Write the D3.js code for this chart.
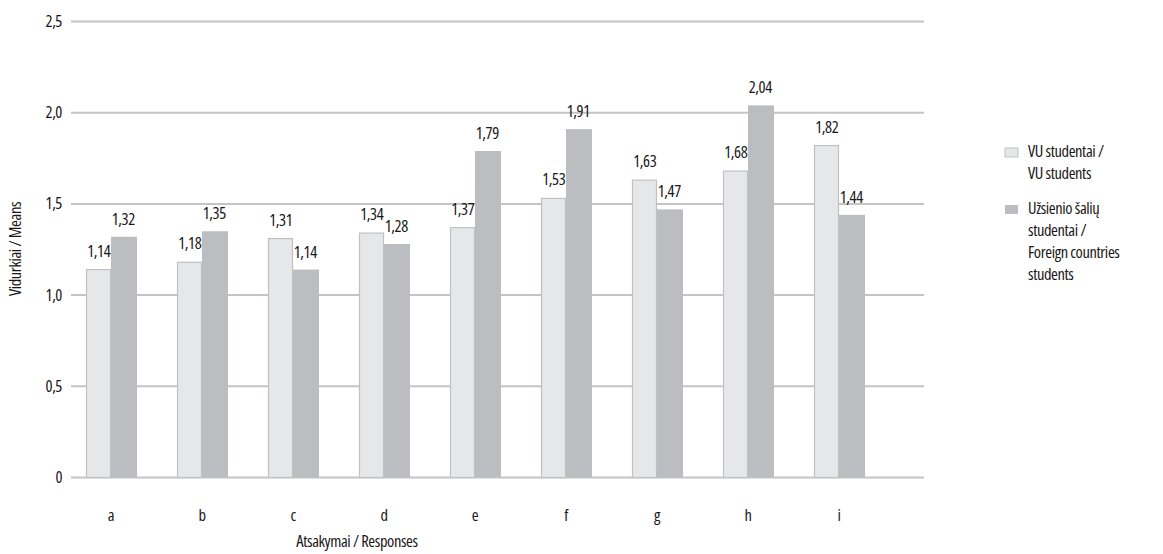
<!DOCTYPE html>
<html>
<head>
<meta charset="utf-8">
<script src="https://cdn.jsdelivr.net/npm/d3@7"></script>
<style>
  html, body { margin: 0; padding: 0; background: #fff; }
  svg { display: block; font-family: "Open Sans", "DejaVu Sans Condensed", sans-serif; font-stretch: 75%; letter-spacing: -0.4px; }
</style>
</head>
<body>
<svg id="chart" width="1163" height="554"></svg>
<script>
const categories = ["a", "b", "c", "d", "e", "f", "g", "h", "i"];
const vuStudents = [1.14, 1.18, 1.31, 1.34, 1.37, 1.53, 1.63, 1.68, 1.82];
const foreignStudents = [1.32, 1.35, 1.14, 1.28, 1.79, 1.91, 1.47, 2.04, 1.44];
const yTicks = [0, 0.5, 1.0, 1.5, 2.0, 2.5];
const yTickLabels = ["0", "0,5", "1,0", "1,5", "2,0", "2,5"];
const legendLines = [["VU studentai /", "VU students"], ["Užsienio šalių", "studentai /", "Foreign countries", "students"]];

const svg = d3.select("#chart");
const textColor = "#1a1718";
const gridColor = "#c4c4c6";
const lightFill = "#e6e7e9", lightStroke = "#c0c1c3";
const darkFill = "#bcbdc0";
const fs = 16.5;

const y = d3.scaleLinear().domain([0, 2.5]).range([477.5, 21.5]);
const x = d3.scaleBand().domain(categories).range([65.5, 65.5 + 91 * 9]).paddingInner(0).paddingOuter(0);
const barW = 24.5;

// gridlines
svg.append("g").selectAll("line").data(yTicks).join("line")
  .attr("x1", 71).attr("x2", 924)
  .attr("y1", d => y(d)).attr("y2", d => y(d))
  .attr("stroke", gridColor).attr("stroke-width", 2);

// y tick labels
svg.append("g").selectAll("text").data(yTicks).join("text")
  .attr("x", 62).attr("y", d => y(d) + 5.5)
  .attr("text-anchor", "end").attr("font-size", fs).attr("fill", textColor)
  .text((d, i) => yTickLabels[i]);

const fmt = v => d3.format(".2f")(v).replace(".", ",");

const groups = svg.append("g").selectAll("g").data(categories).join("g")
  .attr("transform", d => `translate(${x(d) + x.bandwidth() / 2},0)`);

// VU bars
groups.append("rect")
  .attr("x", -barW).attr("width", barW - 0.5)
  .attr("y", (d, i) => y(vuStudents[i]))
  .attr("height", (d, i) => y(0) - y(vuStudents[i]))
  .attr("fill", lightFill).attr("stroke", lightStroke).attr("stroke-width", 1.2);

// Foreign bars
groups.append("rect")
  .attr("x", 0).attr("width", barW + 1.5)
  .attr("y", (d, i) => y(foreignStudents[i]))
  .attr("height", (d, i) => y(0) - y(foreignStudents[i]))
  .attr("fill", darkFill);

// value labels
groups.append("text")
  .attr("x", -barW / 2).attr("y", (d, i) => y(vuStudents[i]) - 13)
  .attr("text-anchor", "middle").attr("font-size", fs).attr("fill", textColor)
  .text((d, i) => fmt(vuStudents[i]));
groups.append("text")
  .attr("x", barW / 2).attr("y", (d, i) => y(foreignStudents[i]) - 12)
  .attr("text-anchor", "middle").attr("font-size", fs).attr("fill", textColor)
  .text((d, i) => fmt(foreignStudents[i]));

// category labels
groups.append("text")
  .attr("x", 0).attr("y", 521)
  .attr("text-anchor", "middle").attr("font-size", fs).attr("fill", textColor)
  .text(d => d);

// axis titles
svg.append("text")
  .attr("x", 357).attr("y", 547)
  .attr("text-anchor", "middle").attr("font-size", fs).attr("fill", textColor)
  .text("Atsakymai / Responses");
svg.append("text")
  .attr("transform", "translate(21,249) rotate(-90)")
  .attr("text-anchor", "middle").attr("font-size", fs).attr("fill", textColor)
  .text("Vidurkiai / Means");

// legend
const legend = svg.append("g");
const legendY = [157, 214];
legendLines.forEach((lines, si) => {
  legend.append("rect")
    .attr("x", 1005).attr("y", legendY[si] - 9).attr("width", 13).attr("height", 9)
    .attr("fill", si === 0 ? lightFill : darkFill)
    .attr("stroke", si === 0 ? lightStroke : "none").attr("stroke-width", 1);
  legend.append("g").selectAll("text").data(lines).join("text")
    .attr("x", 1028).attr("y", (d, j) => legendY[si] + j * 22)
    .attr("font-size", fs).attr("fill", textColor)
    .text(d => d);
});
</script>
</body>
</html>
